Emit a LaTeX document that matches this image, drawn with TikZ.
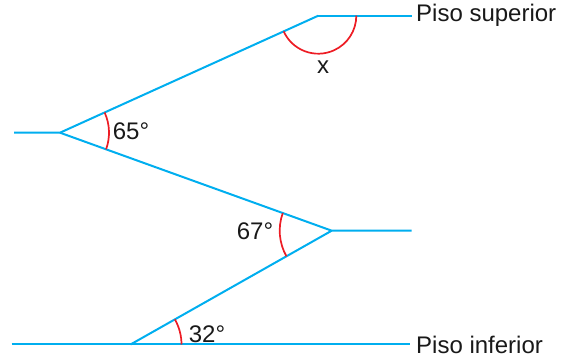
\documentclass[tikz,border=0pt]{standalone}
\usepackage{fontspec}
\setmainfont{Liberation Sans}
\usepackage{tikz}
\usetikzlibrary{positioning,calc}
\definecolor{rampblue}{RGB}{0,174,239}
\definecolor{anglered}{RGB}{237,28,36}
\tikzset{
  ramp/.style  = {draw=rampblue, line width=2pt},
  ang/.style   = {draw=anglered, line width=1.7pt},
  lbl/.style   = {font=\fontsize{24}{26}\selectfont, inner sep=0pt, text=black!90},
}

\begin{document}
\begin{tikzpicture}[x=1pt,y=1pt]
  \useasboundingbox (0,0) rectangle (568,358);
  % vertices of the ramp
  \coordinate (vtop)  at (318.3,342.3);
  \coordinate (vleft) at (60,225.3);
  \coordinate (vmid)  at (331.7,127.3);
  \coordinate (vbot)  at (130.5,13.5);
  % free ends of the short floor pieces
  \coordinate (lstart) at (14,225.3);
  \coordinate (mend)   at (411.7,127.3);
  \coordinate (bstart) at (11.7,13.5);

  \node[lbl, anchor=west] (sup) at (416,342.3) {Piso superior};
  \node[lbl, anchor=west] (inf) at (416,13.5) {Piso inferior};

  \draw[ramp] (vtop) -- ($(sup.west)+(-4,0)$);
  \draw[ramp] (vtop) -- (vleft) -- (lstart);
  \draw[ramp] (vleft) -- (vmid) -- (mend);
  \draw[ramp] (vmid) -- (vbot);
  \draw[ramp] (bstart) -- ($(inf.west)+(-6,0)$);

  % angle marks
  \draw[ang] ($(vtop)+(204.4:38)$) arc[start angle=204.4, end angle=360, radius=38];
  \draw[ang] ($(vleft)+(24.4:49)$) arc[start angle=24.4, end angle=-19.8, radius=49];
  \draw[ang] ($(vmid)+(160.2:52)$) arc[start angle=160.2, end angle=209.5, radius=52];
  \draw[ang] ($(vbot)+(0:51)$) arc[start angle=0, end angle=29.5, radius=51];

  \node[lbl] (ax)  at (323,291)   {x};
  \node[lbl] (a65) at (131,226.3) {65°};
  \node[lbl] (a67) at (255,126.3) {67°};
  \node[lbl] (a32) at (207,24)  {32°};
\end{tikzpicture}
\end{document}
